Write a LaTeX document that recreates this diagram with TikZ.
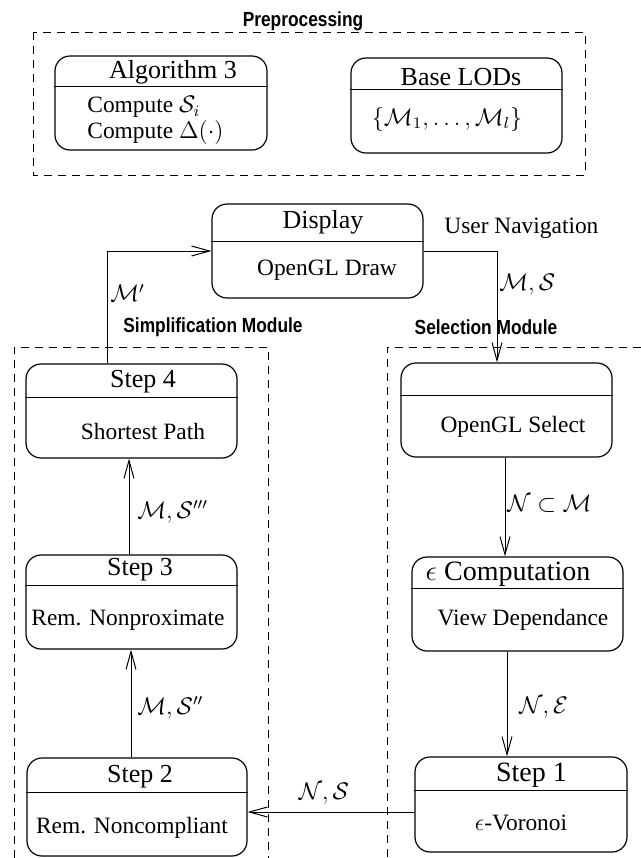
\documentclass[tikz,border=0pt]{standalone}
\usepackage{amsmath}
\usepackage{amssymb}
\usepackage{fontspec}
\setmainfont{Liberation Serif}
\newfontfamily\modfont[FakeStretch=0.85]{Liberation Sans}
\usetikzlibrary{arrows.meta}

\tikzset{
  state/.style={draw, line width=0.6pt, rounded corners=7.5pt,
    minimum width=105.5pt, minimum height=47pt, inner sep=0pt},
  modbox/.style={dash pattern=on 4pt off 3pt, line width=0.5pt},
  flow/.style={-{Straight Barb[length=9pt,width=5pt]}, line width=0.5pt},
  ttl/.style={font=\fontsize{13}{15}\selectfont, inner sep=0pt},
  bigttl/.style={font=\fontsize{14}{16}\selectfont, inner sep=0pt},
  txt/.style={font=\fontsize{11.7}{14}\selectfont, inner sep=0pt},
  lbl/.style={font=\fontsize{12}{14}\selectfont, inner sep=0pt, anchor=west},
  modname/.style={font=\modfont\bfseries\fontsize{10.2}{12}\selectfont, inner sep=0pt}
}

\begin{document}
\begin{tikzpicture}[x=0.5pt,y=-0.5pt]
  \useasboundingbox (0,0) rectangle (641,858);

  \draw[modbox] (33,32) rectangle (585,175);
  \draw[modbox] (14,858) -- (14,347) -- (268,347) -- (268,858);
  \draw[modbox] (641,347) -- (387,347) -- (387,858);
  \node[modname] (prename) at (303,21) {Preprocessing};
  \node[modname] (simname) at (213,327) {Simplification Module};
  \node[modname] (selname) at (486,327) {Selection Module};

  \node[state, minimum width=106pt] (alg) at (161,103) {};
  \node[state, minimum height=47.5pt] (lods) at (456.5,105.5) {};
  \node[state] (display) at (317.5,251) {};
  \node[state] (step4) at (131.5,411) {};
  \node[state] (select) at (506.5,410) {};
  \node[state] (step3) at (131.5,602) {};
  \node[state] (comp) at (517.5,604) {};
  \node[state, minimum width=110pt, minimum height=49pt] (step2) at (137,807) {};
  \node[state, minimum width=106pt, minimum height=47.5pt] (step1) at (521,804.5) {};

  \draw[line width=0.6pt] ([yshift=-15.5pt]alg.north west) -- ([yshift=-15.5pt]alg.north east);
  \draw[line width=0.6pt] ([yshift=-16pt]lods.north west) -- ([yshift=-16pt]lods.north east);
  \draw[line width=0.6pt] ([yshift=-19pt]display.north west) -- ([yshift=-19pt]display.north east);
  \draw[line width=0.6pt] ([yshift=-17pt]step4.north west) -- ([yshift=-17pt]step4.north east);
  \draw[line width=0.6pt] ([yshift=-16.5pt]select.north west) -- ([yshift=-16.5pt]select.north east);
  \draw[line width=0.6pt] ([yshift=-15.5pt]step3.north west) -- ([yshift=-15.5pt]step3.north east);
  \draw[line width=0.6pt] ([yshift=-16pt]comp.north west) -- ([yshift=-16pt]comp.north east);
  \draw[line width=0.6pt] ([yshift=-17.5pt]step2.north west) -- ([yshift=-17.5pt]step2.north east);
  \draw[line width=0.6pt] ([yshift=-17pt]step1.north west) -- ([yshift=-17pt]step1.north east);

  \node[ttl] (algttl) at (173,72) {Algorithm 3};
  \node[txt, anchor=west] (algtxta) at (87,107) {Compute $\mathcal{S}_i$};
  \node[txt, anchor=west] (algtxtb) at (87,132) {Compute $\Delta(\cdot)$};
  \node[ttl] (lodsttl) at (461,77) {Base LODs};
  \node[txt] (lodstxt) at (447,119) {$\{\mathcal{M}_1,\ldots,\mathcal{M}_l\}$};
  \node[ttl] (displayttl) at (323,222) {Display};
  \node[txt] (displaytxt) at (327,270) {OpenGL Draw};
  \node[txt, anchor=west] (usernav) at (444,228) {User Navigation};
  \node[ttl] (step4ttl) at (143,382) {Step 4};
  \node[txt] (step4txt) at (143,431) {Shortest Path};
  \node[txt] (selecttxt) at (513,427) {OpenGL Select};
  \node[ttl] (step3ttl) at (140,570) {Step 3};
  \node[txt] (step3txt) at (128,620) {Rem. Nonproximate};
  \node[bigttl] (compttl) at (508,574) {$\epsilon$ Computation};
  \node[txt] (comptxt) at (523,620) {View Dependance};
  \node[ttl] (step2ttl) at (140,777) {Step 2};
  \node[txt] (step2txt) at (132,828) {Rem. Noncompliant};
  \node[bigttl] (step1ttl) at (531.5,775) {Step 1};
  \node[txt] (step1txt) at (521,823) {$\epsilon$-Voronoi};

  \draw[flow] ([xshift=-12.25pt]step4.north) |- (display.west);
  \draw[flow] (display.east) -| ([xshift=-4.75pt]select.north);
  \draw[flow] ([xshift=-1.25pt]step3.north) -- ([xshift=-1.25pt]step4.south);
  \draw[flow] ([xshift=-0.75pt]select.south) -- ([xshift=-6.25pt]comp.north);
  \draw[flow] ([xshift=-5.25pt]comp.south) -- ([xshift=-7pt]step1.north);
  \draw[flow] ([xshift=-3pt]step2.north) -- ([xshift=-0.25pt]step3.south);
  \draw[flow] ([yshift=-3.75pt]step1.west) -- ([yshift=-2.5pt]step2.east);

  \node[lbl] (lblmp) at (110,293) {$\mathcal{M}'$};
  \node[lbl] (lblms) at (499,285) {$\mathcal{M},\mathcal{S}$};
  \node[lbl] (lblms3) at (137,512) {$\mathcal{M},\mathcal{S}'''$};
  \node[lbl] (lblnm) at (507,504) {$\mathcal{N}\subset\mathcal{M}$};
  \node[lbl] (lblms2) at (137,708) {$\mathcal{M},\mathcal{S}''$};
  \node[lbl] (lblne) at (519,708) {$\mathcal{N},\mathcal{E}$};
  \node[lbl, anchor=center] (lblns) at (324,794) {$\mathcal{N},\mathcal{S}$};
\end{tikzpicture}
\end{document}
